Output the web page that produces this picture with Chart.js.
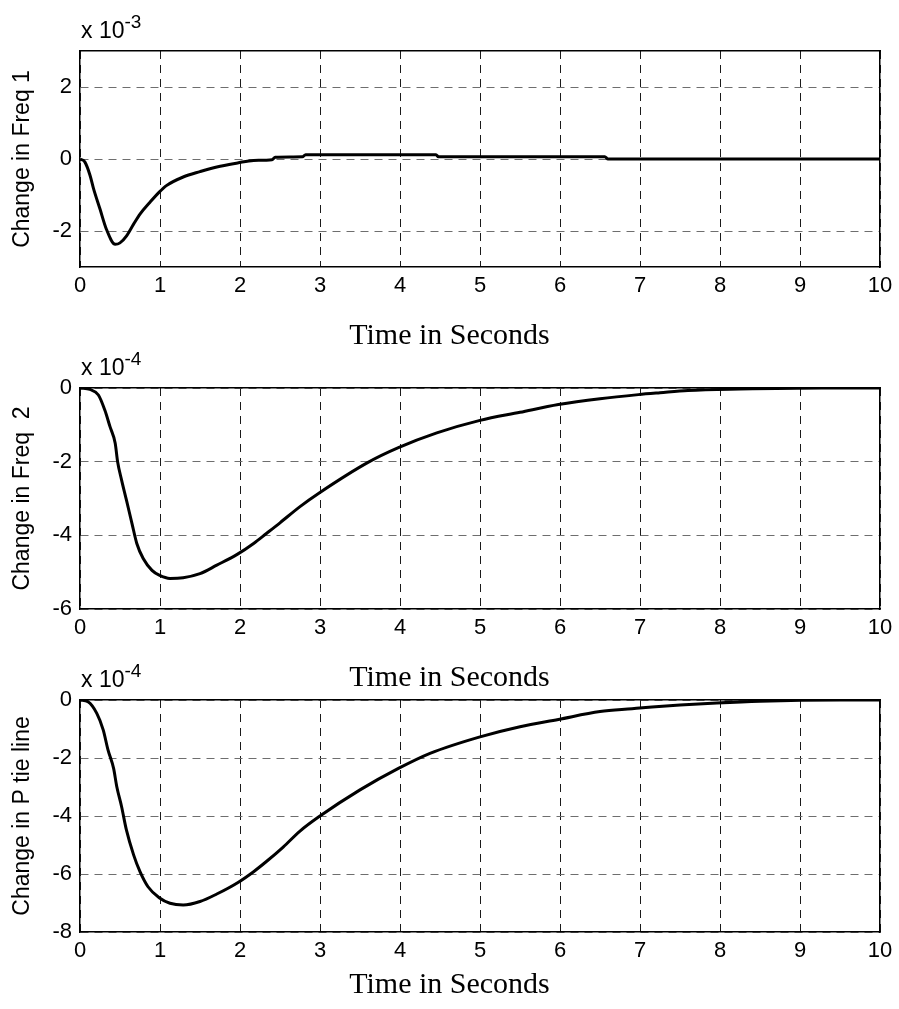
<!DOCTYPE html>
<html>
<head>
<meta charset="utf-8">
<title>Frequency and tie-line response</title>
<script src="https://cdn.jsdelivr.net/npm/chart.js@4.4.1/dist/chart.umd.min.js"></script>
<style>
    body { margin: 0; background: #fff; width: 899px; height: 1009px; position: relative; overflow: hidden; }
    .panel { position: absolute; left: 0; width: 899px; }
</style>
</head>
<body>
<div class="panel" style="top:0;height:354px"><canvas id="freq1Chart"></canvas></div>
<div class="panel" style="top:340px;height:356px"><canvas id="freq2Chart"></canvas></div>
<div class="panel" style="top:655px;height:348px"><canvas id="tieChart"></canvas></div>
<script>
// x axis (seconds)
const timeTicks = [0, 1, 2, 3, 4, 5, 6, 7, 8, 9, 10];
const xLabel = 'Time in Seconds';

// Change in Freq 1, values in units of 1e-3
const freq1Time = [0, 0.06, 0.125, 0.17, 0.25, 0.33, 0.44, 0.5, 0.58, 0.67, 0.75, 0.875, 0.99, 1.08, 1.29, 1.5, 1.71, 1.97, 2.17, 2.4, 2.44, 2.78, 2.82, 4.45, 4.48, 6.56, 6.6, 10];
const freq1Values = [0, -0.08, -0.45, -0.83, -1.39, -1.95, -2.37, -2.33, -2.14, -1.81, -1.53, -1.2, -0.92, -0.74, -0.5, -0.35, -0.22, -0.11, -0.04, -0.02, 0.05, 0.06, 0.12, 0.12, 0.06, 0.06, 0, 0];
const freq1Ticks = [-2, 0, 2];

// Change in Freq 2, values in units of 1e-4
const freq2Time = [0, 0.125, 0.23, 0.31, 0.375, 0.44, 0.47, 0.52, 0.58, 0.65, 0.71, 0.79, 0.9, 0.99, 1.125, 1.29, 1.5, 1.71, 1.97, 2.17, 2.33, 2.5, 2.75, 2.99, 3.6, 3.98, 4.46, 5.0, 5.5, 5.98, 6.5, 6.98, 7.25, 7.6, 8.25, 9.27, 10];
const freq2Values = [0, -0.04, -0.19, -0.6, -1.05, -1.5, -2.0, -2.5, -3.04, -3.68, -4.22, -4.63, -4.95, -5.08, -5.17, -5.15, -5.04, -4.81, -4.51, -4.22, -3.95, -3.66, -3.22, -2.85, -2.02, -1.62, -1.22, -0.88, -0.66, -0.45, -0.29, -0.18, -0.13, -0.07, -0.03, 0, 0];
const freq2Ticks = [-6, -4, -2, 0];

// Change in P tie line, values in units of 1e-4
const tieTime = [0, 0.1, 0.21, 0.29, 0.35, 0.42, 0.46, 0.52, 0.58, 0.67, 0.75, 0.85, 0.99, 1.125, 1.29, 1.5, 1.71, 1.97, 2.17, 2.33, 2.54, 2.75, 2.99, 3.5, 3.98, 4.375, 5.0, 5.5, 5.98, 6.5, 6.9, 7.15, 7.5, 7.96, 8.5, 9.5, 10];
const tieValues = [0, -0.06, -0.46, -1.03, -1.72, -2.36, -2.99, -3.68, -4.48, -5.34, -5.92, -6.44, -6.82, -7.01, -7.07, -6.95, -6.69, -6.3, -5.92, -5.57, -5.07, -4.52, -4.02, -3.1, -2.36, -1.84, -1.27, -0.92, -0.67, -0.4, -0.3, -0.24, -0.17, -0.1, -0.04, 0, 0];
const tieTicks = [-8, -6, -4, -2, 0];

const SANS = '"Liberation Sans", Arial, Helvetica, sans-serif';
const SERIF = '"Liberation Serif", "Times New Roman", serif';

// draws the "x 10^-n" multiplier above the plot box
const exponentLabel = {
    id: 'exponentLabel',
    afterDraw(chart, args, opts) {
        const { ctx, chartArea } = chart;
        ctx.save();
        ctx.fillStyle = '#000';
        ctx.textBaseline = 'alphabetic';
        ctx.textAlign = 'left';
        ctx.font = '23px ' + SANS;
        ctx.fillText('x 10', chartArea.left + 1, chartArea.top - 13);
        const w = ctx.measureText('x 10').width;
        ctx.font = '19px ' + SANS;
        ctx.fillText(opts.power, chartArea.left + 1 + w, chartArea.top - 23);
        ctx.restore();
    }
};

function makePanel(id, opt) {
    const points = opt.time.map((t, i) => ({ x: t, y: opt.values[i] }));

    return new Chart(document.getElementById(id), {
        type: 'line',
        data: {
            datasets: [{
                data: points,
                borderColor: '#000',
                borderWidth: 3,
                pointRadius: 0,
                cubicInterpolationMode: 'monotone',
                xAxisID: 'x',
                yAxisID: 'y'
            }]
        },
        options: {
            responsive: true,
            maintainAspectRatio: false,
            animation: false,
            events: [],
            layout: { padding: 0 },
            scales: {
                x: {
                    type: 'linear',
                    position: 'bottom',
                    min: 0,
                    max: 10,
                    afterBuildTicks: s => { s.ticks = timeTicks.map(v => ({ value: v })); },
                    afterFit: s => { s.height = opt.bottomHeight; },
                    ticks: {
                        color: '#000',
                        padding: 6,
                        maxRotation: 0,
                        font: { family: SANS, size: 22 },
                        callback: v => String(v)
                    },
                    grid: { color: '#1a1a1a', lineWidth: 1, drawTicks: false },
                    border: { display: true, color: '#000', width: 1.5, dash: [8, 6] }
                },
                xTop: {
                    type: 'linear',
                    position: 'top',
                    min: 0,
                    max: 10,
                    afterFit: s => { s.height = opt.topHeight; },
                    ticks: { display: false },
                    grid: { display: false },
                    border: { display: true, color: '#000', width: 1.5 }
                },
                y: {
                    type: 'linear',
                    position: 'left',
                    min: opt.min,
                    max: opt.max,
                    afterBuildTicks: s => { s.ticks = opt.ticks.map(v => ({ value: v })); },
                    afterFit: s => { s.width = 80; },
                    ticks: {
                        color: '#000',
                        padding: 8,
                        font: { family: SANS, size: 22 },
                        callback: v => String(v)
                    },
                    title: {
                        display: true,
                        text: opt.yLabel,
                        color: '#000',
                        font: { family: SANS, size: 23 },
                        padding: { top: 9, bottom: 0 }
                    },
                    grid: { color: '#6e6e6e', lineWidth: 1, drawTicks: false },
                    border: { display: true, color: '#000', width: 1.5, dash: [8, 6] }
                },
                yRight: {
                    type: 'linear',
                    position: 'right',
                    min: opt.min,
                    max: opt.max,
                    afterFit: s => { s.width = 19; },
                    ticks: { display: false },
                    grid: { display: false },
                    border: { display: true, color: '#000', width: 1.5 }
                }
            },
            plugins: {
                legend: { display: false },
                tooltip: { enabled: false },
                title: {
                    display: true,
                    position: 'bottom',
                    text: xLabel,
                    color: '#000',
                    font: { family: SERIF, size: 30, weight: 'normal' },
                    padding: { top: 0, bottom: 0 }
                },
                exponentLabel: { power: opt.power }
            }
        },
        plugins: [exponentLabel]
    });
}

makePanel('freq1Chart', {
    time: freq1Time, values: freq1Values, ticks: freq1Ticks,
    min: -3, max: 3, power: '-3', yLabel: 'Change in Freq 1',
    topHeight: 51, bottomHeight: 51
});

makePanel('freq2Chart', {
    time: freq2Time, values: freq2Values, ticks: freq2Ticks,
    min: -6, max: 0, power: '-4', yLabel: 'Change in Freq  2',
    topHeight: 48, bottomHeight: 51
});

makePanel('tieChart', {
    time: tieTime, values: tieValues, ticks: tieTicks,
    min: -8, max: 0, power: '-4', yLabel: 'Change in P tie line',
    topHeight: 45, bottomHeight: 35
});
</script>
</body>
</html>
